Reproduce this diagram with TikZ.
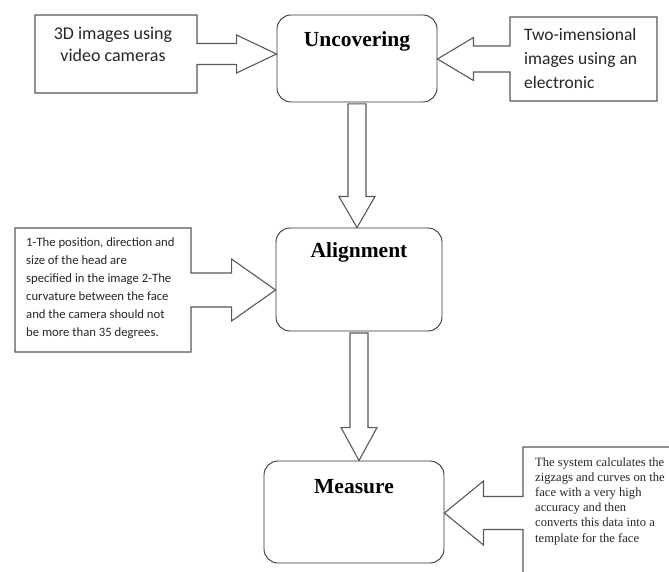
\documentclass[tikz,border=0pt]{standalone}
\usepackage{fontspec}
\setmainfont{Liberation Serif}
\newfontfamily\calibri{Carlito}
\usetikzlibrary{calc}
\newcommand\calloutright[5]{% box, target, shaft half, head half, head length
 \draw[outline] let \p1=(#1.east), \p2=(#2.west |- #1.center) in
 (#1.north west) -- (#1.north east) -- (\x1,\y1+#3) -- (\x2-#5,\y1+#3) -- (\x2-#5,\y1+#4) -- (\x2,\y2) -- (\x2-#5,\y1-#4) -- (\x2-#5,\y1-#3) -- (\x1,\y1-#3) -- (#1.south east) -- (#1.south west) -- cycle;}
\newcommand\calloutleft[5]{% box, target, shaft half, head half, head length
 \draw[outline] let \p1=(#1.west), \p2=(#2.east |- #1.center) in
 (#1.north east) -- (#1.north west) -- (\x1,\y1+#3) -- (\x2+#5,\y1+#3) -- (\x2+#5,\y1+#4) -- (\x2,\y2) -- (\x2+#5,\y1-#4) -- (\x2+#5,\y1-#3) -- (\x1,\y1-#3) -- (#1.south west) -- (#1.south east) -- cycle;}
\newcommand\blockdown[5]{% source, target, shaft half, head half, head length
 \draw[outline] let \p1=(#1.south), \p2=(#2.north) in
 (\x1-#3,\y1-1.5pt) -- (\x1-#3,\y2+#5) -- (\x1-#4,\y2+#5) -- (\x1,\y2) -- (\x1+#4,\y2+#5) -- (\x1+#3,\y2+#5) -- (\x1+#3,\y1-1.5pt) -- cycle;}
\begin{document}
\begin{tikzpicture}[x=1pt,y=-1pt,
  mainbox/.style={draw=black!80,line width=0.9pt,rounded corners=14pt,inner sep=0pt},
  title/.style={font=\bfseries\fontsize{21.5}{24}\selectfont,text=black,inner sep=0pt},
  callbox/.style={inner sep=0pt,outer sep=0pt},
  outline/.style={draw=black!65,line width=1.1pt,line join=miter},
  ctext/.style={inner sep=0pt,text=black!85}]
\clip (0,0) rectangle (669,572);
\fill[white] (0,0) rectangle (669,572);
% main boxes
\node[mainbox,minimum width=160pt,minimum height=87pt] (u) at (357,58.5) {};
\node[title] (ut) at ([yshift=-27pt]u.north) {Uncovering};
\node[mainbox,minimum width=166pt,minimum height=103pt] (a) at (359,279.5) {};
\node[title] (at) at ([yshift=-25pt]a.north) {Alignment};
\node[mainbox,minimum width=180pt,minimum height=102pt] (m) at (354,512) {};
\node[title] (mt) at ([yshift=-26pt]m.north) {Measure};
% callout boxes
\node[callbox,minimum width=162pt,minimum height=78pt] (c1) at (116,54) {};
\node[ctext,align=center,font=\calibri\fontsize{18}{22}\selectfont] (c1t) at (113,44) {3D images using\\video cameras};
\node[callbox,minimum width=147pt,minimum height=84pt] (c2) at (583.5,59) {};
\node[ctext,align=left,anchor=west,font=\calibri\fontsize{17.5}{24}\selectfont] (c2t) at (524,58) {Two-imensional\\images using an\\electronic};
\node[callbox,minimum width=176pt,minimum height=124pt] (c3) at (103,290) {};
\node[ctext,align=left,anchor=west,font=\calibri\fontsize{12.7}{18}\selectfont] (c3t) at (26,288) {1-The position, direction and\\size of the head are\\specified in the image 2-The\\curvature between the face\\and the camera should not\\be more than 35 degrees.};
\node[callbox,minimum width=160pt,minimum height=132pt] (c4) at (603,513) {};
\node[ctext,align=left,anchor=west,font=\fontsize{12.6}{15.2}\selectfont] (c4t) at (535,501) {The system calculates the\\zigzags and curves on the\\face with a very high\\accuracy and then\\converts this data into a\\template for the face};
% callout outlines
\calloutright{c1}{u}{10.5pt}{19pt}{40pt}
\calloutleft{c2}{u}{13pt}{21.5pt}{36pt}
\calloutright{c3}{a}{17pt}{31pt}{44pt}
\calloutleft{c4}{m}{16.5pt}{32pt}{39pt}
% block arrows
\blockdown{u}{a}{9pt}{18pt}{31pt}
\blockdown{a}{m}{9pt}{18pt}{33pt}
\end{tikzpicture}
\end{document}
